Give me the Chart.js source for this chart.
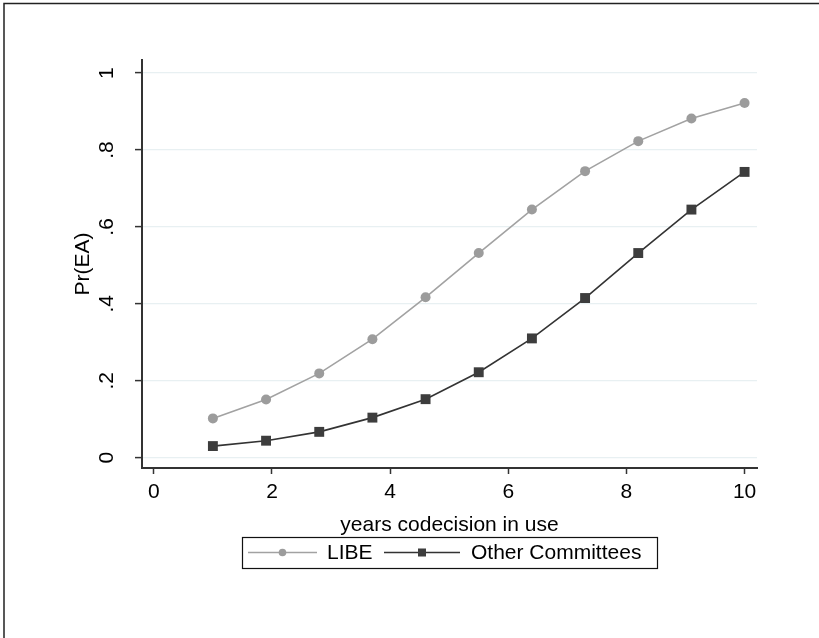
<!DOCTYPE html>
<html>
<head>
<meta charset="utf-8">
<script src="https://cdn.jsdelivr.net/npm/chart.js@4"></script>
<style>
  html, body { margin: 0; padding: 0; background: #fff; }
  #wrap { width: 819px; height: 638px; }
</style>
</head>
<body>
<div id="wrap"><canvas id="chart" width="819" height="638"></canvas></div>
<script>
// years codecision in use
const years = [1, 1.9, 2.8, 3.7, 4.6, 5.5, 6.4, 7.3, 8.2, 9.1, 10];
const libe = [0.102, 0.151, 0.219, 0.308, 0.417, 0.532, 0.645, 0.745, 0.823, 0.882, 0.922];
const otherCommittees = [0.030, 0.044, 0.067, 0.104, 0.152, 0.222, 0.310, 0.415, 0.532, 0.645, 0.743];
const seriesNames = ['LIBE', 'Other Committees'];
const xTicks = [0, 2, 4, 6, 8, 10];
const yTicks = [0, 0.2, 0.4, 0.6, 0.8, 1];
const yTickLabels = ['0', '.2', '.4', '.6', '.8', '1'];

const FONT = 'Liberation Sans, Arial, Helvetica, sans-serif';
const textColor = '#000';
const axisColor = '#333';
const gridColor = '#e8f0f2';

function toPoints(xs, ys) {
    return xs.map((x, i) => ({ x: x, y: ys[i] }));
}

// outer frame, like the Stata graph region
const framePlugin = {
    id: 'frame',
    afterDraw(chart) {
        const ctx = chart.ctx;
        ctx.save();
        ctx.strokeStyle = '#222';
        ctx.lineWidth = 1.5;
        ctx.strokeRect(4, 3.5, 1000, 1000);
        ctx.restore();
    }
};

// boxed legend below the x title: line + marker, then label
const boxLegend = {
    id: 'boxLegend',
    afterDraw(chart) {
        const ctx = chart.ctx;
        const box = { x: 242, y: 537, w: 415, h: 31 };
        const items = [
            { x0: 248, x1: 317, tx: 327 },
            { x0: 384, x1: 460, tx: 471 }
        ];
        const cy = box.y + box.h / 2;
        ctx.save();
        ctx.strokeStyle = '#111';
        ctx.lineWidth = 1.2;
        ctx.strokeRect(box.x + 0.5, box.y + 0.5, box.w, box.h);
        chart.data.datasets.forEach((ds, i) => {
            const it = items[i];
            ctx.strokeStyle = ds.borderColor;
            ctx.lineWidth = ds.borderWidth;
            ctx.beginPath();
            ctx.moveTo(it.x0, cy);
            ctx.lineTo(it.x1, cy);
            ctx.stroke();
            ctx.fillStyle = ds.pointBackgroundColor;
            const mx = (it.x0 + it.x1) / 2;
            if (ds.pointStyle === 'rect') {
                ctx.fillRect(mx - 4, cy - 4, 8, 8);
            } else {
                ctx.beginPath();
                ctx.arc(mx, cy, 3.8, 0, Math.PI * 2);
                ctx.fill();
            }
            ctx.fillStyle = textColor;
            ctx.font = '21px ' + FONT;
            ctx.textBaseline = 'middle';
            ctx.textAlign = 'left';
            ctx.fillText(ds.label, it.tx, cy + 1);
        });
        ctx.restore();
    }
};

const ctx = document.getElementById('chart').getContext('2d');
new Chart(ctx, {
    type: 'line',
    data: {
        datasets: [
            {
                label: seriesNames[0],
                data: toPoints(years, libe),
                borderColor: '#a2a2a2',
                borderWidth: 1.6,
                pointStyle: 'circle',
                pointRadius: 5,
                pointBackgroundColor: '#9c9c9c',
                pointBorderColor: '#9c9c9c',
                pointBorderWidth: 0,
                tension: 0
            },
            {
                label: seriesNames[1],
                data: toPoints(years, otherCommittees),
                borderColor: '#333333',
                borderWidth: 1.6,
                pointStyle: 'rect',
                pointRadius: 7,
                pointBackgroundColor: '#3d3d3d',
                pointBorderColor: '#3d3d3d',
                pointBorderWidth: 0,
                tension: 0
            }
        ]
    },
    options: {
        responsive: false,
        animation: false,
        layout: { padding: { top: 60, right: 62, bottom: 100, left: 0 } },
        plugins: {
            legend: { display: false },
            tooltip: { enabled: false }
        },
        scales: {
            x: {
                type: 'linear',
                min: -0.2,
                max: 10.21,
                afterBuildTicks(scale) {
                    scale.ticks = xTicks.map(v => ({ value: v }));
                },
                afterFit(scale) { scale.height = 70; },
                grid: {
                    drawOnChartArea: false,
                    drawTicks: true,
                    tickLength: 6,
                    tickColor: axisColor,
                    tickWidth: 1.5
                },
                border: { color: axisColor, width: 2 },
                ticks: {
                    autoSkip: false,
                    maxRotation: 0,
                    padding: 6,
                    color: textColor,
                    font: { family: FONT, size: 21 }
                },
                title: {
                    display: true,
                    text: 'years codecision in use',
                    color: textColor,
                    font: { family: FONT, size: 21 },
                    padding: { top: 0, bottom: 0 }
                }
            },
            y: {
                type: 'linear',
                min: -0.027,
                max: 1.034,
                afterBuildTicks(scale) {
                    scale.ticks = yTicks.map(v => ({ value: v }));
                },
                afterFit(scale) { scale.width = 142; },
                grid: {
                    color: gridColor,
                    lineWidth: 1.2,
                    drawTicks: true,
                    tickLength: 7,
                    tickColor: axisColor,
                    tickWidth: 1.5
                },
                border: { color: axisColor, width: 2 },
                ticks: {
                    autoSkip: false,
                    minRotation: 90,
                    maxRotation: 90,
                    crossAlign: 'center',
                    padding: 19,
                    color: textColor,
                    font: { family: FONT, size: 21 },
                    callback: (v, i) => yTickLabels[i]
                },
                title: {
                    display: true,
                    text: 'Pr(EA)',
                    color: textColor,
                    font: { family: FONT, size: 21 },
                    padding: { top: 71, bottom: 0 }
                }
            }
        }
    },
    plugins: [framePlugin, boxLegend]
});
</script>
</body>
</html>
